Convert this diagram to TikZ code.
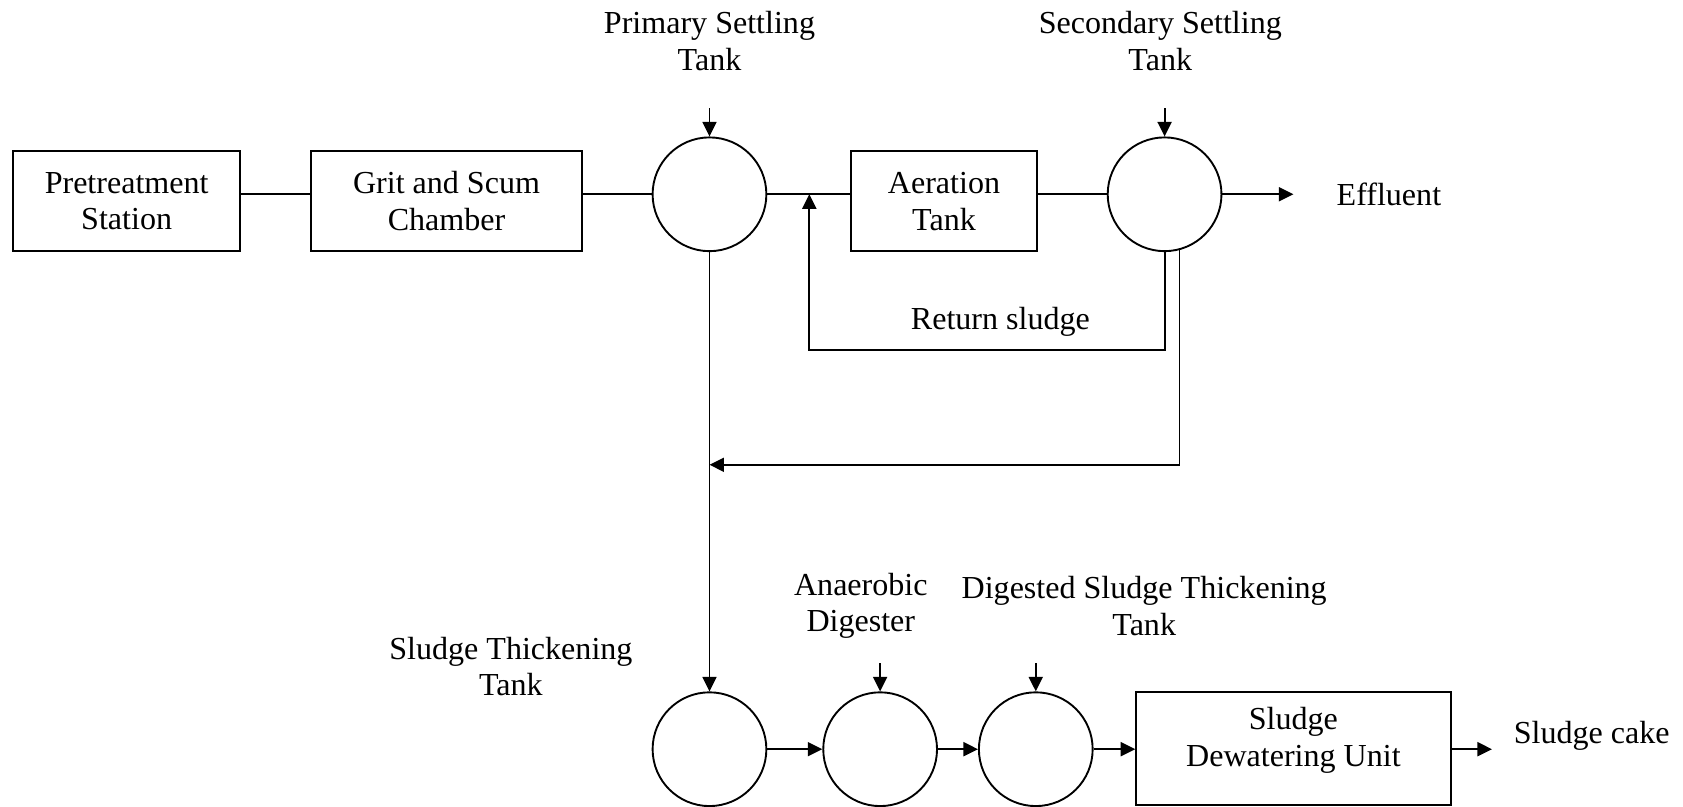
\documentclass[tikz,border=0pt]{standalone}
\usepackage{fontspec}
\setmainfont{Liberation Serif}
\usetikzlibrary{arrows.meta,calc}
\begin{document}
\begin{tikzpicture}[x=0.02cm,y=-0.02cm,
  every node/.style={font=\fontsize{17}{19.4}\selectfont, align=center},
  box/.style={draw, line width=1pt, inner sep=0pt, minimum height=1.86cm},
  tank/.style={draw, circle, line width=1pt, minimum size=2.12cm, inner sep=0pt},
  conn/.style={line width=1pt},
  arr/.style={line width=1pt, -{Triangle[length=0.27cm,width=0.26cm]}}]
\useasboundingbox (0,0) rectangle (1568,751);
% top row
\node[box, minimum width=4.24cm] (pre) at (118,187.5) {Pretreatment\\Station};
\node[box, minimum width=5.04cm] (grit) at (416,187.5) {Grit and Scum\\Chamber};
\node[tank] (p1) at (661,181) {};
\node[box, minimum width=3.46cm] (aer) at (879.5,187.5) {Aeration\\Tank};
\node[tank] (s2) at (1085,181) {};
\node (eff) at (1294,181) {Effluent};
\node (p1l) at (661,38.5) {Primary Settling\\Tank};
\node (s2l) at (1081,38.5) {Secondary Settling\\Tank};
\node (ret) at (932,300) {Return sludge};
% bottom row
\node[tank] (t1) at (661,698) {};
\node[tank] (t2) at (820,698) {};
\node[tank] (t3) at (965,698) {};
\node[box, minimum width=5.86cm, minimum height=2.1cm] (dw) at (1205,697.5) {};
\node (dwt) at (1205,689.5) {Sludge\\Dewatering Unit};
\node (cake) at (1483,686) {Sludge cake};
\node (t1l) at (476,621) {Sludge Thickening\\Tank};
\node (t2l) at (802,564.5) {Anaerobic\\Digester};
\node (t3l) at (1066,564.5) {Digested Sludge Thickening\\Tank};
% coordinates
\coordinate (in1) at (661,101);
\coordinate (in2) at (1085,101);
\coordinate (in3) at (820,618);
\coordinate (in4) at (965,618);
\coordinate (effend) at (1205,181);
\coordinate (cakeend) at (1390,698);
\coordinate (rB) at (754,326);
\coordinate (rC) at (754,181);
\coordinate (wA) at (1099,433);
% connectors
\draw[conn] (pre.east |- p1) -- (grit.west |- p1);
\draw[conn] (grit.east |- p1) -- (p1.west);
\draw[conn] (p1.east) -- (aer.west |- p1);
\draw[conn] (aer.east |- s2) -- (s2.west);
\draw[arr] (s2.east) -- (effend);
\draw[arr] (in1) -- (p1.north);
\draw[arr] (in2) -- (s2.north);
\draw[arr] (s2.south) |- (rB) -- (rC);
\draw[arr] (s2.-75) |- (p1.south |- wA);
\draw[arr] (p1.south) -- (t1.north);
\draw[arr] (in3) -- (t2.north);
\draw[arr] (in4) -- (t3.north);
\draw[arr] (t1.east) -- (t2.west);
\draw[arr] (t2.east) -- (t3.west);
\draw[arr] (t3.east) -- (dw.west |- t3);
\draw[arr] (dw.east |- t3) -- (cakeend);
\end{tikzpicture}
\end{document}
